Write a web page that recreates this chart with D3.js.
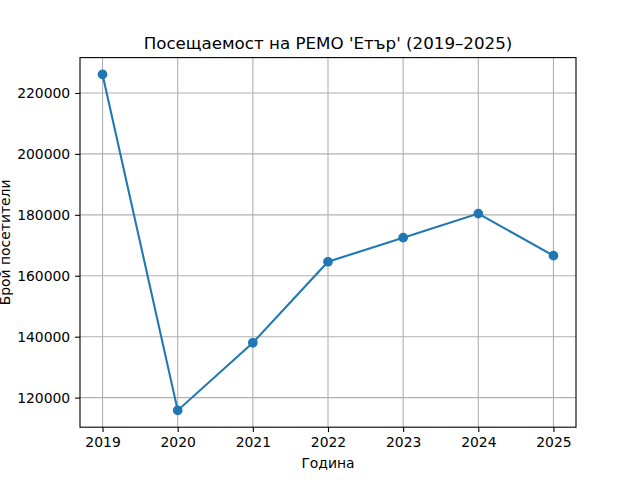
<!DOCTYPE html>
<html>
<head>
<meta charset="utf-8">
<script src="https://cdn.jsdelivr.net/npm/d3@7"></script>
<style>
  body { margin: 0; background: #fff; }
  svg { display: block; font-family: "DejaVu Sans", sans-serif; }
</style>
</head>
<body>
<svg></svg>
<script>
const width = 640;
const height = 480;
const margin = { left: 80, right: 64, top: 57.6, bottom: 52.8 };

const years = [2019, 2020, 2021, 2022, 2023, 2024, 2025];
const visitors = [226100, 115800, 138000, 164600, 172500, 180400, 166600];
const yTicks = [120000, 140000, 160000, 180000, 200000, 220000];

const data = years.map((y, i) => ({ year: y, value: visitors[i] }));

const svg = d3.select("svg")
    .attr("width", width)
    .attr("height", height);

const x0 = margin.left, x1 = width - margin.right;
const y0 = height - margin.bottom, y1 = margin.top;

// matplotlib-style 5% margins
const xPad = (d3.max(years) - d3.min(years)) * 0.05;
const yMin = d3.min(visitors), yMax = d3.max(visitors);
const yPad = (yMax - yMin) * 0.05;

const xScale = d3.scaleLinear()
    .domain([d3.min(years) - xPad, d3.max(years) + xPad])
    .range([x0, x1]);

const yScale = d3.scaleLinear()
    .domain([yMin - yPad, yMax + yPad])
    .range([y0, y1]);

// grid
svg.append('g')
    .selectAll('line')
    .data(years)
    .enter()
    .append('line')
    .attr('x1', d => xScale(d)).attr('x2', d => xScale(d))
    .attr('y1', y0).attr('y2', y1)
    .attr('stroke', '#b0b0b0')
    .attr('stroke-width', 1.1);

svg.append('g')
    .selectAll('line')
    .data(yTicks)
    .enter()
    .append('line')
    .attr('x1', x0).attr('x2', x1)
    .attr('y1', d => yScale(d)).attr('y2', d => yScale(d))
    .attr('stroke', '#b0b0b0')
    .attr('stroke-width', 1.1);

const xAxis = d3.axisBottom(xScale)
    .tickValues(years)
    .tickFormat(d3.format("d"))
    .tickSizeInner(4.9)
    .tickSizeOuter(0)
    .tickPadding(4.9);

const yAxis = d3.axisLeft(yScale)
    .tickValues(yTicks)
    .tickFormat(d3.format("d"))
    .tickSizeInner(4.9)
    .tickSizeOuter(0)
    .tickPadding(4.9);

const gx = svg.append('g')
    .attr('transform', `translate(0, ${y0})`)
    .call(xAxis);

const gy = svg.append('g')
    .attr('transform', `translate(${x0}, 0)`)
    .call(yAxis);

[gx, gy].forEach(g => {
    g.select('.domain').remove();
    g.selectAll('.tick line').attr('stroke', '#000').attr('stroke-width', 1.1);
    g.selectAll('.tick text')
        .attr('fill', '#000')
        .style('font-size', '13.9px')
        .style('font-family', '"DejaVu Sans", sans-serif');
});
gx.selectAll('.tick text').attr('dy', '0.75em');
gy.selectAll('.tick text').attr('dy', '0.34em');

// frame
svg.append('rect')
    .attr('x', x0).attr('y', y1)
    .attr('width', x1 - x0).attr('height', y0 - y1)
    .attr('fill', 'none')
    .attr('stroke', '#000')
    .attr('stroke-width', 1.1);

const line = d3.line()
    .x(d => xScale(d.year))
    .y(d => yScale(d.value));

svg.append('path')
    .datum(data)
    .attr('d', line)
    .attr('fill', 'none')
    .attr('stroke', '#1f77b4')
    .attr('stroke-width', 2.08);

svg.selectAll('.dot')
    .data(data)
    .enter()
    .append('circle')
    .attr('class', 'dot')
    .attr('cx', d => xScale(d.year))
    .attr('cy', d => yScale(d.value))
    .attr('r', 4.17)
    .attr('fill', '#1f77b4')
    .attr('stroke', '#1f77b4')
    .attr('stroke-width', 1.39);

svg.append('text')
    .attr('x', (x0 + x1) / 2)
    .attr('y', 49)
    .attr('text-anchor', 'middle')
    .style('font-size', '16.7px')
    .text("Посещаемост на РЕМО 'Етър' (2019–2025)");

svg.append('text')
    .attr('x', (x0 + x1) / 2)
    .attr('y', 468)
    .attr('text-anchor', 'middle')
    .style('font-size', '13.9px')
    .text('Година');

svg.append('text')
    .attr('transform', `translate(9.5, ${(y0 + y1) / 2}) rotate(-90)`)
    .attr('text-anchor', 'middle')
    .style('font-size', '13.9px')
    .text('Брой посетители');
</script>
</body>
</html>
